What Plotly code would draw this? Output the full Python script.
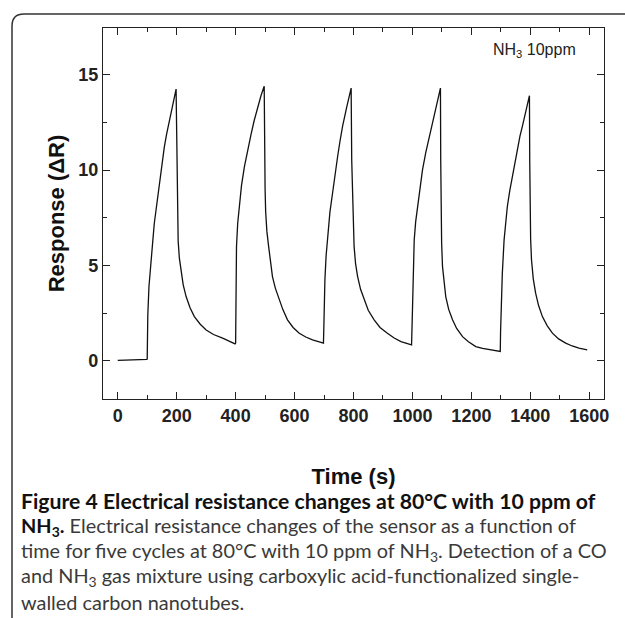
import plotly.graph_objects as go

# ---- data (time in s, response ΔR) ----
base_t = [0, 25, 50, 75, 99]
base_v = [0.02, 0.03, 0.03, 0.05, 0.08]

cyc1_t = [100, 102, 106, 113, 119, 124, 132, 141, 150, 158, 166, 175, 186, 198,
          200, 201, 202, 205, 209, 215, 222, 232, 245, 260, 280, 300, 325, 356, 380, 398]
cyc1_v = [0.10, 2.4, 3.9, 5.0, 6.3, 7.2, 8.2, 9.1, 10.2, 11.2, 11.9, 12.6, 13.4, 14.25,
          12.0, 10.0, 8.0, 6.3, 5.4, 4.6, 4.0, 3.37, 2.8, 2.32, 1.92, 1.62, 1.38, 1.19, 1.0, 0.89]

cyc2_t = [400, 401, 403, 407, 412, 420, 430, 440, 452, 463, 475, 486, 497,
          498, 500, 502, 506, 512, 518, 525, 535, 548, 560, 576, 595, 616, 638, 661, 680, 698]
cyc2_v = [0.93, 3.0, 6.0, 7.2, 8.1, 9.2, 10.2, 11.0, 11.85, 12.6, 13.33, 13.9, 14.4,
          11.5, 9.0, 7.8, 6.8, 6.0, 5.1, 4.42, 3.8, 3.2, 2.7, 2.15, 1.75, 1.45, 1.25, 1.1, 1.0, 0.93]

cyc3_t = [699, 701, 703, 707, 712, 720, 729, 737, 746, 754, 763, 777, 792,
          794, 797, 802, 807, 814, 824, 836, 850, 870, 890, 915, 938, 961, 980, 997]
cyc3_v = [1.5, 3.0, 4.25, 5.5, 6.5, 7.8, 8.8, 9.8, 10.7, 11.5, 12.3, 13.3, 14.3,
          10.5, 8.1, 6.0, 5.1, 4.42, 3.75, 3.2, 2.65, 2.15, 1.75, 1.45, 1.2, 1.01, 0.92, 0.84]

cyc4_t = [999, 1001, 1006, 1011, 1017, 1025, 1034, 1045, 1057, 1068, 1079, 1087, 1095,
          1096, 1097, 1099, 1102, 1107, 1113, 1123, 1136, 1150, 1170, 1190, 1215, 1238, 1260, 1280, 1298]
cyc4_v = [2.0, 3.8, 6.34, 7.3, 8.09, 9.1, 10.0, 10.9, 11.76, 12.5, 13.25, 13.75, 14.3,
          10.5, 7.74, 6.2, 4.95, 4.1, 3.37, 2.7, 2.15, 1.7, 1.27, 1.0, 0.75, 0.65, 0.58, 0.53, 0.49]

cyc5_t = [1299, 1301, 1305, 1311, 1316, 1322, 1330, 1339, 1347, 1356, 1365, 1373, 1385, 1397,
          1398, 1399, 1401, 1404, 1410, 1418, 1428, 1441, 1457, 1475, 1496, 1520, 1542, 1565, 1580, 1593]
cyc5_v = [1.5, 3.2, 4.6, 6.34, 7.3, 8.09, 8.9, 9.66, 10.5, 11.24, 11.8, 12.29, 13.1, 13.9,
          10.5, 7.74, 6.4, 5.3, 4.3, 3.55, 2.9, 2.32, 1.85, 1.45, 1.15, 0.93, 0.78, 0.67, 0.62, 0.58]

time_s = base_t + cyc1_t + cyc2_t + cyc3_t + cyc4_t + cyc5_t
response = base_v + cyc1_v + cyc2_v + cyc3_v + cyc4_v + cyc5_v

x_ticks = [0, 200, 400, 600, 800, 1000, 1200, 1400, 1600]
y_ticks = [0, 5, 10, 15]

caption_lines = [
    "<b>Figure 4 Electrical resistance changes at 80°C with 10 ppm of</b>",
    "<span style='color:#111111'><b>NH<sub>3</sub>.</b></span> Electrical resistance changes of the sensor as a function of",
    "time for five cycles at 80°C with 10 ppm of NH<sub>3</sub>. Detection of a CO",
    "and NH<sub>3</sub> gas mixture using carboxylic acid-functionalized single-",
    "walled carbon nanotubes.",
]

# ---- layout geometry (pixels) ----
W, H = 625, 618
L, R, T, B = 103, 21, 28, 219
PW, PH = W - L - R, H - T - B


def px(xp):
    return (xp - L) / PW


def py(yp):
    return (H - B - yp) / PH


AX = "Liberation Sans, Arial, sans-serif"

fig = go.Figure()
fig.add_trace(go.Scatter(x=time_s, y=response, mode="lines",
                         line=dict(color="#111111", width=1.3),
                         showlegend=False, hoverinfo="skip"))

common = dict(showline=True, linecolor="#222222", linewidth=1.3, mirror="ticks",
              ticks="inside", ticklen=7, tickwidth=1.1, tickcolor="#222222",
              showgrid=False, zeroline=False,
              tickfont=dict(family=AX, size=18, color="#222222", weight="bold"))

fig.update_xaxes(range=[-50, 1650], tickvals=x_ticks,
                 minor=dict(ticks="inside", ticklen=4, dtick=100, tick0=0,
                            tickcolor="#222222", showgrid=False),
                 title=dict(text="Time (s)", standoff=43,
                            font=dict(family=AX, size=22, color="#111111", weight="bold")),
                 **common)
fig.update_yaxes(range=[-2.0, 17.45], tickvals=y_ticks,
                 minor=dict(ticks="inside", ticklen=4, dtick=2.5, tick0=0,
                            tickcolor="#222222", showgrid=False),
                 title=dict(text="Response (ΔR)", standoff=7,
                            font=dict(family=AX, size=22, color="#111111", weight="bold")),
                 **common)

annotations = [dict(text="NH<sub>3</sub> 10ppm", xref="paper", yref="paper",
                    x=px(491), y=py(50), xanchor="left", yanchor="middle",
                    showarrow=False, font=dict(family=AX, size=16, color="#222222"))]

cap_y0, cap_dy = 501, 25.2
for i, line in enumerate(caption_lines):
    size = 21.2 if i == 0 else 19.9
    color = "#111111" if i == 0 else "#3a3a3a"
    annotations.append(dict(text=line, xref="paper", yref="paper",
                            x=px(19), y=py(cap_y0 + i * cap_dy),
                            xanchor="left", yanchor="middle", showarrow=False, align="left",
                            font=dict(family="Lato, Open Sans, sans-serif", size=size,
                                      color=color)))

# open rounded frame around the figure (top-left corner only)
r = 12
frame = (f"M {px(12)},{py(640)} L {px(12)},{py(14 + r)} "
         f"Q {px(12)},{py(14)} {px(12 + r)},{py(14)} L {px(640)},{py(14)}")

fig.update_layout(
    width=W, height=H, autosize=False,
    margin=dict(l=L, r=R, t=T, b=B, autoexpand=False),
    paper_bgcolor="white", plot_bgcolor="white",
    annotations=annotations,
    shapes=[dict(type="path", path=frame, xref="paper", yref="paper",
                 line=dict(color="#333333", width=1.5), layer="above")],
)

fig.write_html("out.html", config={"displayModeBar": False},
               post_script="document.body.style.margin='0';document.body.style.padding='0';")
